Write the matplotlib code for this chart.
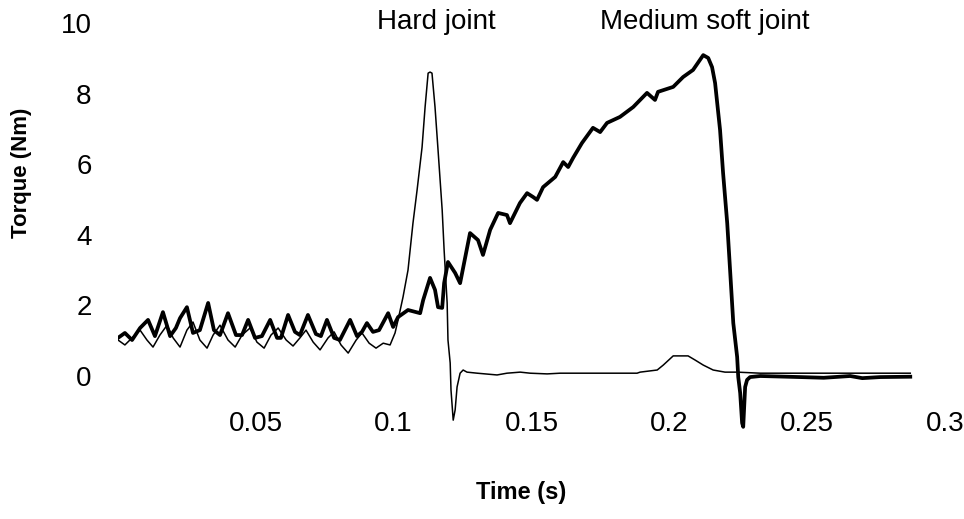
import matplotlib
matplotlib.use("Agg")
import matplotlib.pyplot as plt

plt.rcParams['font.family'] = ['Liberation Sans', 'DejaVu Sans']

# Medium soft joint (thick line)
soft_t = [0.0, 0.0025, 0.0051, 0.0080, 0.0109, 0.0134, 0.0163, 0.0189, 0.0210, 0.0225,
          0.0250, 0.0272, 0.0297, 0.0327, 0.0348, 0.0370, 0.0399, 0.0428, 0.0450, 0.0472,
          0.0497, 0.0522, 0.0552, 0.0577, 0.0591, 0.0617, 0.0642, 0.0660, 0.0689, 0.0718,
          0.0736, 0.0758, 0.0784, 0.0805, 0.0842, 0.0867, 0.0885, 0.0903, 0.0925, 0.0947,
          0.0980, 0.0998, 0.1016, 0.1052, 0.1096, 0.1107, 0.1132, 0.1150, 0.1161, 0.1176,
          0.1183, 0.1197, 0.1223, 0.1241, 0.1277, 0.1306, 0.1324, 0.1350, 0.1379, 0.1411,
          0.1422, 0.1458, 0.1484, 0.1506, 0.1520, 0.1542, 0.1586, 0.1615, 0.1633, 0.1651,
          0.1683, 0.1723, 0.1749, 0.1774, 0.1821, 0.1869, 0.1919, 0.1948, 0.1959, 0.2014,
          0.2050, 0.2086, 0.2123, 0.2141, 0.2155, 0.2166, 0.2184, 0.2195, 0.2210, 0.2221,
          0.2232, 0.2246, 0.2250, 0.2257, 0.2264, 0.2268, 0.2275, 0.2282, 0.2293, 0.2330,
          0.2475, 0.2560, 0.2656, 0.2700, 0.2765, 0.2874]
soft_v = [1.08, 1.22, 1.02, 1.36, 1.59, 1.13, 1.81, 1.13, 1.36, 1.64,
          1.95, 1.22, 1.30, 2.07, 1.30, 1.16, 1.78, 1.16, 1.16, 1.59,
          1.08, 1.13, 1.59, 1.08, 1.08, 1.73, 1.25, 1.16, 1.73, 1.19,
          1.13, 1.59, 1.08, 1.02, 1.59, 1.13, 1.25, 1.50, 1.25, 1.30,
          1.78, 1.39, 1.67, 1.87, 1.78, 2.15, 2.78, 2.44, 1.95, 1.93,
          2.63, 3.23, 2.92, 2.63, 4.05, 3.85, 3.43, 4.14, 4.62, 4.56,
          4.33, 4.90, 5.18, 5.07, 4.99, 5.35, 5.64, 6.06, 5.92, 6.18,
          6.60, 7.03, 6.91, 7.17, 7.34, 7.62, 8.02, 7.82, 8.05, 8.19,
          8.47, 8.67, 9.09, 9.01, 8.75, 8.30, 6.97, 5.75, 4.33, 2.92,
          1.50, 0.54, -0.03, -0.48, -1.33, -1.44, -0.31, -0.11, -0.03, 0.0,
          -0.03, -0.05, 0.0, -0.06, -0.03, -0.02]

# Hard joint (thin line)
hard_t = [0.0, 0.0025, 0.0051, 0.0080, 0.0105, 0.0127, 0.0152, 0.0178, 0.0200, 0.0225,
          0.0250, 0.0272, 0.0297, 0.0323, 0.0345, 0.0370, 0.0399, 0.0425, 0.0450, 0.0479,
          0.0504, 0.0530, 0.0555, 0.0581, 0.0610, 0.0635, 0.0660, 0.0682, 0.0708, 0.0733,
          0.0762, 0.0784, 0.0809, 0.0835, 0.0864, 0.0885, 0.0911, 0.0936, 0.0962, 0.0987,
          0.1005, 0.1016, 0.1034, 0.1052, 0.1070, 0.1085, 0.1103, 0.1114, 0.1125, 0.1132,
          0.1139, 0.1150, 0.1161, 0.1176, 0.1183, 0.1194, 0.1197, 0.1205, 0.1208, 0.1216,
          0.1223, 0.1230, 0.1241, 0.1252, 0.1266, 0.1303, 0.1375, 0.1411, 0.1459, 0.1495,
          0.1557, 0.1604, 0.1883, 0.1894, 0.1956, 0.1978, 0.2014, 0.2068, 0.2094, 0.2123,
          0.2159, 0.2202, 0.2246, 0.2330, 0.2656, 0.2874]
hard_v = [1.02, 0.88, 1.08, 1.30, 1.02, 0.82, 1.16, 1.44, 1.08, 0.82,
          1.30, 1.53, 1.02, 0.79, 1.16, 1.44, 1.02, 0.82, 1.16, 1.36,
          0.96, 0.79, 1.16, 1.36, 1.02, 0.85, 1.08, 1.30, 0.96, 0.74,
          1.08, 1.25, 0.88, 0.65, 1.02, 1.22, 0.93, 0.79, 0.93, 0.88,
          1.22, 1.59, 2.24, 3.00, 4.33, 5.27, 6.48, 7.62, 8.58, 8.61,
          8.58, 7.62, 6.40, 4.70, 3.57, 2.07, 1.02, 0.37, -0.40, -1.25,
          -0.96, -0.31, 0.08, 0.17, 0.11, 0.08, 0.03, 0.08, 0.11, 0.08,
          0.06, 0.08, 0.08, 0.11, 0.17, 0.31, 0.57, 0.57, 0.45, 0.31,
          0.17, 0.11, 0.11, 0.08, 0.08, 0.08]

x_ticks = [0.05, 0.1, 0.15, 0.2, 0.25, 0.3]
x_tick_labels = ["0.05", "0.1", "0.15", "0.2", "0.25", "0.3"]
y_ticks = [0, 2, 4, 6, 8, 10]
y_tick_labels = ["0", "2", "4", "6", "8", "10"]

W, H = 964, 519
fig = plt.figure(figsize=(W / 100, H / 100), dpi=100)
left_px, right_px, top_px, bottom_px = 118, 945, 23, 432.5
ax = fig.add_axes([left_px / W, 1 - bottom_px / H, (right_px - left_px) / W, (bottom_px - top_px) / H])

ax.plot(hard_t, hard_v, color='black', lw=1.1, solid_joinstyle='round')
ax.plot(soft_t, soft_v, color='black', lw=2.7, solid_joinstyle='round')

ax.set_xlim(0, 0.3)
ax.set_ylim(-1.6, 10)
for s in ax.spines.values():
    s.set_visible(False)

ax.set_xticks(x_ticks)
ax.set_xticklabels(x_tick_labels)
ax.set_yticks(y_ticks)
ax.set_yticklabels(y_tick_labels)
ax.tick_params(axis='both', length=0, labelsize=20, colors='black')
ax.tick_params(axis='y', pad=19)
ax.tick_params(axis='x', pad=-6)
for lab in ax.get_xticklabels():
    lab.set_va('center')

fig.text(22 / W, 1 - 173 / H, "Torque (Nm)", rotation=90, fontsize=16, fontweight='bold',
         ha='center', va='center')
fig.text(521 / W, 1 - 493 / H, "Time (s)", fontsize=17, fontweight='bold',
         ha='center', va='center')
fig.text(436 / W, 1 - 22 / H, "Hard joint", fontsize=20, ha='center', va='center')
fig.text(705 / W, 1 - 22 / H, "Medium soft joint", fontsize=20, ha='center', va='center')

fig.savefig("out.png", dpi=100)
